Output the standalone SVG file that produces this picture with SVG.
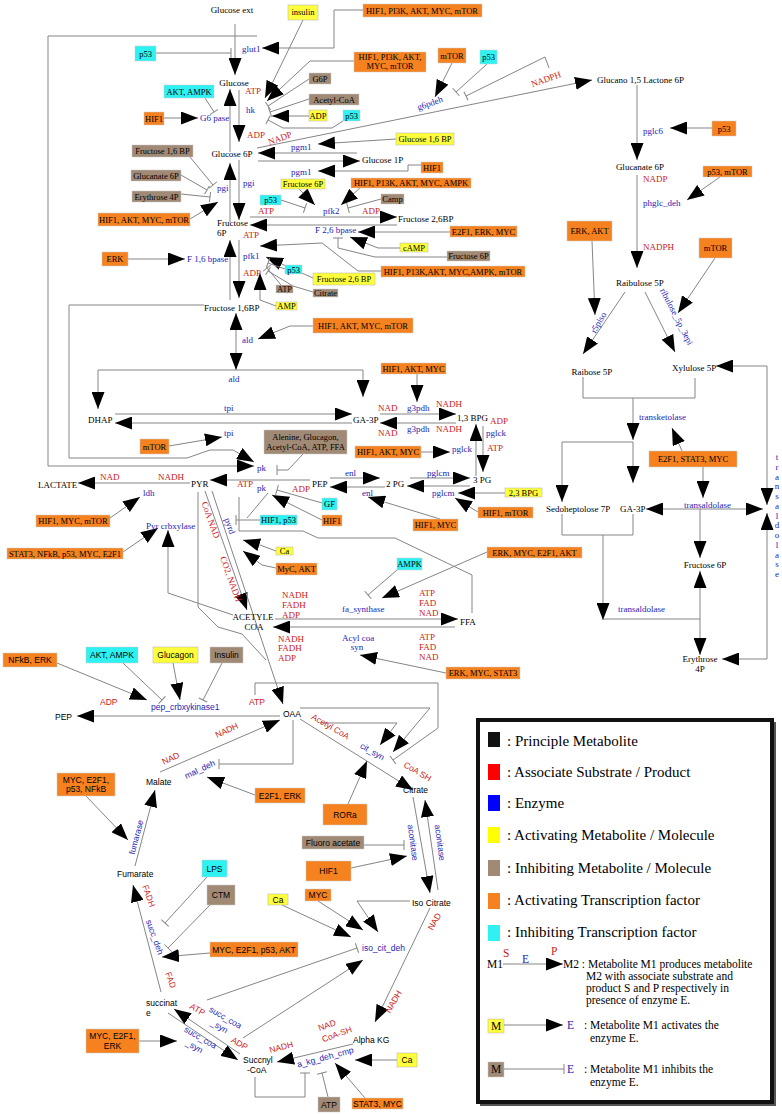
<svg xmlns="http://www.w3.org/2000/svg" width="782" height="1114" viewBox="0 0 782 1114">
<defs>
<style>
text{font-family:"Liberation Serif","Times New Roman",serif;font-size:9px}
.m{fill:#000}
.e{fill:#2424b4}
.s{fill:#cc2020}
.sa{font-family:"Liberation Sans",Arial,sans-serif;font-size:8.5px}
.mid{text-anchor:middle}
.bt{font-size:8.5px;fill:#000;text-anchor:middle}
.or{fill:#f5821f;stroke:#c9c9c9;stroke-width:0.5}
.ye{fill:#ffff3c;stroke:#b0b0b0;stroke-width:0.5}
.cy{fill:#2ef2f2;stroke:#c9c9c9;stroke-width:0.5}
.br{fill:#a08a76;stroke:#c9c9c9;stroke-width:0.5}
.c{fill:none;stroke:#858585;stroke-width:1}
.a{marker-end:url(#ah)}
.t{marker-end:url(#tb)}
.lg{font-size:15px;fill:#000}
.lt{font-size:11.5px;fill:#000}
</style>
<marker id="ah" markerUnits="userSpaceOnUse" markerWidth="18" markerHeight="13" refX="17" refY="6.5" orient="auto" viewBox="0 0 18 13"><path d="M0,0 L17,6.5 L0,13 z" fill="#000"/></marker>
<marker id="tb" markerUnits="userSpaceOnUse" markerWidth="3" markerHeight="10" refX="1.5" refY="5" orient="auto" viewBox="0 0 3 10"><path d="M1.5,0 V10" stroke="#858585" stroke-width="1"/></marker>
</defs>
<rect width="782" height="1114" fill="#fff"/>

<g id="connectors">
<path class="c a" d="M235,24 V75"/>
<path class="c a" d="M257,36 H48 V466 H254"/>
<path class="c t" d="M156,53 H231"/>
<path class="c a" d="M363,10 H334 V48 H262"/>
<path class="c a" d="M303,20 L265,98"/>
<path class="c a" d="M354,61 H310 L267,101"/>
<path class="c t" d="M309,79 L268,106"/>
<path class="c t" d="M309,99 L270,112"/>
<path class="c a" d="M309,116 H272"/>
<path class="c t" d="M343,121 L332,128 H283 L268,120"/>
<path class="c t" d="M205,98 L214,112"/>
<path class="c a" d="M164,118 H198"/>
<path class="c a" d="M239,90 V142"/>
<path class="c a" d="M230,152 V89"/>
<path class="c a" d="M257,148 L592,80"/>
<path class="c a" d="M452,63 L435,97"/>
<path class="c t" d="M487,64 L456,92"/>
<path class="c t" d="M549,68 L545,57 L466,96"/>
<path class="c a" d="M396,139 L318,144"/>
<path class="c a" d="M357,153 H258"/>
<path class="c a" d="M258,161 H360"/>
<path class="c a" d="M421,165 H408 V171 H318"/>
<path class="c t" d="M190,157 L213,185"/>
<path class="c t" d="M181,175 L207,190"/>
<path class="c t" d="M181,194 L210,197"/>
<path class="c a" d="M190,219 L218,202"/>
<path class="c a" d="M239,160 V220"/>
<path class="c a" d="M230,222 V163"/>
<path class="c a" d="M250,217 H397"/>
<path class="c a" d="M397,225 H250"/>
<path class="c a" d="M298,188 L315,205"/>
<path class="c a" d="M360,188 L341,205"/>
<path class="c t" d="M281,200 L305,208"/>
<path class="c t" d="M381,199 L348,208"/>
<path class="c a" d="M450,232 H358"/>
<path class="c a" d="M400,248 H378 L350,237"/>
<path class="c t" d="M447,257 H375 L338,248 V238"/>
<path class="c a" d="M381,271 H358 L322,243 L260,246"/>
<path class="c a" d="M313,278 L266,257"/>
<path class="c t" d="M285,269 L268,263"/>
<path class="c t" d="M281,285 L267,268"/>
<path class="c t" d="M313,292 L293,286 L268,271"/>
<path class="c a" d="M276,306 L260,300 V273"/>
<path class="c a" d="M128,259 H185"/>
<path class="c a" d="M239,240 V298"/>
<path class="c a" d="M230,300 V240"/>
<path class="c a" d="M204,305 H69 V458 H187 L210,450 H233 L254,462"/>
<path class="c a" d="M236,340 V313"/>
<path class="c a" d="M236,340 V370"/>
<path class="c a" d="M313,326 H290 L258,339"/>
<path class="c a" d="M236,370 H98 V409"/>
<path class="c a" d="M236,370 H363 V397"/>
<path class="c a" d="M115,414 H352"/>
<path class="c a" d="M352,423 H115"/>
<path class="c a" d="M169,446 L222,437"/>
<path class="c a" d="M380,414 H456"/>
<path class="c a" d="M456,423 H380"/>
<path class="c a" d="M417,374 V402"/>
<path class="c a" d="M476,476 V424"/>
<path class="c a" d="M483,426 V472"/>
<path class="c a" d="M421,452 H450"/>
<path class="c a" d="M470,486 H407"/>
<path class="c a" d="M410,478 H470"/>
<path class="c a" d="M505,493 H458"/>
<path class="c a" d="M478,512 L455,498"/>
<path class="c a" d="M385,487 H330"/>
<path class="c a" d="M330,478 H380"/>
<path class="c a" d="M440,519 L368,497"/>
<path class="c a" d="M310,480 H210"/>
<path class="c t" d="M303,454 L288,470 H277"/>
<path class="c t" d="M322,503 L277,490"/>
<path class="c a" d="M322,520 L272,495"/>
<path class="c a" d="M190,483 H78"/>
<path class="c a" d="M110,518 L140,497"/>
<path class="c a" d="M123,552 L158,528"/>
<path class="c a" d="M233,615 L168,593 V530"/>
<path class="c a" d="M205,491 L247,610"/>
<path class="c a" d="M212,491 L283,704"/>
<path class="c" d="M198,492 V607 L218,627 L242,634 L266,660"/>
<path class="c t" d="M260,520 H236"/>
<path class="c" d="M268,493 L247,518"/>
<path class="c" d="M472,613 V575 L395,538 H318 L303,531 H239 V497"/>
<path class="c a" d="M276,551 L260,545 L243,540"/>
<path class="c a" d="M276,568 L262,565 L243,551"/>
<path class="c t" d="M397,570 L368,595"/>
<path class="c a" d="M487,552 L382,598"/>
<path class="c a" d="M275,619 H458"/>
<path class="c a" d="M455,627 H273"/>
<path class="c a" d="M446,673 L360,655"/>
<path class="c a" d="M57,663 L147,700"/>
<path class="c t" d="M123,663 L162,700"/>
<path class="c a" d="M173,663 L180,700"/>
<path class="c t" d="M222,663 L203,700"/>
<path class="c a" d="M280,716 H77"/>
<path class="c t" d="M255,695 V683 H438 V728 L393,760"/>
<path class="c a" d="M300,708 H430 L393,752"/>
<path class="c a" d="M320,723 H397 L380,745"/>
<path class="c a" d="M300,719 L413,790"/>
<path class="c a" d="M348,804 L367,761"/>
<path class="c t" d="M293,720 V764 H219"/>
<path class="c a" d="M160,772 L280,720"/>
<path class="c a" d="M255,795 L207,777"/>
<path class="c a" d="M86,796 L128,840"/>
<path class="c a" d="M135,866 L155,790"/>
<path class="c a" d="M413,797 L430,893"/>
<path class="c a" d="M438,890 L425,800"/>
<path class="c t" d="M364,845 H404"/>
<path class="c a" d="M351,868 L407,856"/>
<path class="c a" d="M282,905 L351,937"/>
<path class="c a" d="M318,901 L363,930"/>
<path class="c a" d="M410,901 H357 L378,932"/>
<path class="c t" d="M207,1000 L357,948"/>
<path class="c a" d="M243,1038 L363,960"/>
<path class="c a" d="M430,908 L375,1022"/>
<path class="c a" d="M397,1060 H355"/>
<path class="c a" d="M365,1098 L335,1063"/>
<path class="c t" d="M328,1097 L322,1073"/>
<path class="c a" d="M353,1044 L277,1062"/>
<path class="c t" d="M255,1077 V1097 H305 V1073"/>
<path class="c a" d="M161,992 L133,885"/>
<path class="c t" d="M207,877 L165,923"/>
<path class="c t" d="M210,905 L168,948"/>
<path class="c a" d="M210,953 L162,957"/>
<path class="c a" d="M139,1041 H177"/>
<path class="c a" d="M168,1013 L238,1060"/>
<path class="c a" d="M240,1054 L174,1009"/>
<path class="c a" d="M637,85 V160"/>
<path class="c a" d="M712,128 H670"/>
<path class="c a" d="M720,177 L687,200"/>
<path class="c a" d="M637,175 V268"/>
<path class="c a" d="M592,241 L595,315"/>
<path class="c a" d="M715,258 L678,313"/>
<path class="c a" d="M625,292 L583,354"/>
<path class="c a" d="M645,292 L675,352"/>
<path class="c" d="M583,377 V398 H695 V378"/>
<path class="c a" d="M633,398 V440"/>
<path class="c" d="M562,442 H633"/>
<path class="c a" d="M562,442 V502"/>
<path class="c a" d="M633,442 V483"/>
<path class="c a" d="M682,451 L672,428"/>
<path class="c a" d="M703,467 V498"/>
<path class="c a" d="M700,509 H646"/>
<path class="c a" d="M700,509 H763"/>
<path class="c a" d="M767,366 V505"/>
<path class="c a" d="M767,659 V513"/>
<path class="c a" d="M767,366 H716"/>
<path class="c a" d="M767,659 H722"/>
<path class="c a" d="M700,509 V558"/>
<path class="c" d="M562,514 V535 H633 V514"/>
<path class="c a" d="M603,535 V620"/>
<path class="c" d="M603,619 H700"/>
<path class="c a" d="M700,600 V571"/>
<path class="c a" d="M700,600 V655"/>
</g>

<g id="glycolysis-metabolites">
<text class="m mid" x="232" y="13">Glucose ext</text>
<text class="m mid" x="234" y="86">Glucose</text>
<text class="m mid" x="232" y="157">Glucose 6P</text>
<text class="m" x="362" y="163">Glucose 1P</text>
<text class="m" x="217" y="226">Fructose</text>
<text class="m" x="217" y="236">6P</text>
<text class="m" x="398" y="222">Fructose 2,6BP</text>
<text class="m" x="204" y="311">Fructose 1,6BP</text>
<text class="m" x="88" y="423">DHAP</text>
<text class="m" x="353" y="423">GA-3P</text>
<text class="m" x="457" y="421">1,3 BPG</text>
<text class="m" x="473" y="483">3 PG</text>
<text class="m" x="386" y="487">2 PG</text>
<text class="m" x="312" y="487">PEP</text>
<text class="m" x="191" y="487">PYR</text>
<text class="m" x="38" y="488">LACTATE</text>
<text class="m mid" x="253" y="620">ACETYLE</text>
<text class="m mid" x="254" y="630">COA</text>
<text class="m" x="460" y="625">FFA</text>
</g>

<g id="ppp-metabolites">
<text class="m" x="597" y="83">Glucano 1,5 Lactone 6P</text>
<text class="m mid" x="640" y="170">Glucanate 6P</text>
<text class="m mid" x="640" y="286">Raibulose 5P</text>
<text class="m mid" x="592" y="375">Raibose 5P</text>
<text class="m" x="672" y="371">Xylulose 5P</text>
<text class="m" x="546" y="512">Sedoheptolose 7P</text>
<text class="m" x="620" y="512">GA-3P</text>
<text class="m mid" x="705" y="568">Fructose 6P</text>
<text class="m mid" x="700" y="662">Erythrose</text>
<text class="m mid" x="700" y="672">4P</text>
</g>

<g id="tca-metabolites">
<text class="m sa" x="55" y="720">PEP</text>
<text class="m sa" x="283" y="717">OAA</text>
<text class="m sa" x="146" y="785">Malate</text>
<text class="m sa" x="403" y="793">Citrate</text>
<text class="m sa" x="117" y="877">Fumarate</text>
<text class="m sa" x="412" y="906">Iso Citrate</text>
<text class="m sa" x="146" y="1006">succinat</text>
<text class="m sa" x="146" y="1016">e</text>
<text class="m sa" x="353" y="1043">Alpha KG</text>
<text class="m sa" x="243" y="1063">Succnyl</text>
<text class="m sa" x="247" y="1073">-CoA</text>
</g>

<g id="enzymes">
<text class="e" x="242" y="52">glut1</text>
<text class="e" x="246" y="113">hk</text>
<text class="e" x="200" y="121">G6 pase</text>
<text class="e" x="217" y="191">pgi</text>
<text class="e" x="243" y="186">pgi</text>
<text class="e" x="291" y="150">pgm1</text>
<text class="e" x="291" y="175">pgm1</text>
<text class="e" x="323" y="214">pfk2</text>
<text class="e" x="315" y="233">F 2,6 bpase</text>
<text class="e" x="243" y="259">pfk1</text>
<text class="e" x="187" y="262">F 1,6 bpase</text>
<text class="e" x="242" y="343">ald</text>
<text class="e mid" x="234" y="382">ald</text>
<text class="e" x="224" y="411">tpi</text>
<text class="e" x="224" y="436">tpi</text>
<text class="e" x="407" y="411">g3pdh</text>
<text class="e" x="407" y="432">g3pdh</text>
<text class="e" x="486" y="436">pglck</text>
<text class="e" x="452" y="452">pglck</text>
<text class="e" x="345" y="476">enl</text>
<text class="e" x="362" y="496">enl</text>
<text class="e" x="427" y="476">pglcm</text>
<text class="e" x="432" y="496">pglcm</text>
<text class="e" x="257" y="471">pk</text>
<text class="e" x="257" y="491">pk</text>
<text class="e" x="143" y="496">ldh</text>
<text class="e" x="146" y="529">Pyr crbxylase</text>
<text class="e mid" transform="translate(227,527) rotate(70)">pyrd</text>
<text class="e" x="342" y="612">fa_synthase</text>
<text class="e" x="342" y="641">Acyl coa</text>
<text class="e mid" x="357" y="650">syn</text>
<text class="e mid" transform="translate(431,106) rotate(-20)">g6pdeh</text>
<text class="e" x="643" y="134">pglc6</text>
<text class="e" x="643" y="206">phglc_deh</text>
<text class="e mid" transform="translate(601,324) rotate(-60)">r5piso</text>
<text class="e mid" transform="translate(674,318) rotate(63)">ribulose_5p_3epi</text>
<text class="e" x="639" y="420">transketolase</text>
<text class="e" x="684" y="508">transaldolase</text>
<text class="e" x="618" y="612">transaldolase</text>
<text class="e mid" x="777" y="460"><tspan x="777">t</tspan><tspan x="777" dy="9.75">r</tspan><tspan x="777" dy="9.75">a</tspan><tspan x="777" dy="9.75">n</tspan><tspan x="777" dy="9.75">s</tspan><tspan x="777" dy="9.75">a</tspan><tspan x="777" dy="9.75">l</tspan><tspan x="777" dy="9.75">d</tspan><tspan x="777" dy="9.75">o</tspan><tspan x="777" dy="9.75">l</tspan><tspan x="777" dy="9.75">a</tspan><tspan x="777" dy="9.75">s</tspan><tspan x="777" dy="9.75">e</tspan></text>
<text class="e sa" x="151" y="710">pep_crbxykinase1</text>
<text class="e sa mid" transform="translate(201,772) rotate(-25)">mal_deh</text>
<text class="e sa mid" transform="translate(139,838) rotate(-75)">fumarase</text>
<text class="e sa mid" transform="translate(371,754) rotate(30)">cit_syn</text>
<text class="e sa mid" transform="translate(410,843) rotate(82)">aconitase</text>
<text class="e sa mid" transform="translate(437,843) rotate(82)">aconitase</text>
<text class="e sa" x="362" y="951">iso_cit_deh</text>
<text class="e sa mid" transform="translate(152,938) rotate(70)">succ_deh</text>
<text class="e sa mid" transform="translate(224,1020) rotate(30)">succ_coa</text>
<text class="e sa mid" transform="translate(218,1029) rotate(30)">_syn</text>
<text class="e sa mid" transform="translate(199,1040) rotate(30)">succ_coa</text>
<text class="e sa mid" transform="translate(193,1049) rotate(30)">_syn</text>
<text class="e sa mid" transform="translate(326,1060) rotate(-15)">a_kg_deh_cmp</text>
</g>

<g id="cofactors">
<text class="s" x="245" y="94">ATP</text>
<text class="s" x="247" y="138">ADP</text>
<text class="s mid" transform="translate(281,141) rotate(-20)">NADP</text>
<text class="s mid" transform="translate(547,82) rotate(-20)">NADPH</text>
<text class="s" x="258" y="214">ATP</text>
<text class="s" x="362" y="214">ADP</text>
<text class="s" x="243" y="238">ATP</text>
<text class="s" x="243" y="276">ADP</text>
<text class="s" x="643" y="182">NADP</text>
<text class="s" x="643" y="250">NADPH</text>
<text class="s" x="378" y="411">NAD</text>
<text class="s" x="436" y="407">NADH</text>
<text class="s" x="378" y="436">NAD</text>
<text class="s" x="436" y="432">NADH</text>
<text class="s" x="490" y="424">ADP</text>
<text class="s" x="487" y="451">ATP</text>
<text class="s" x="100" y="480">NAD</text>
<text class="s" x="158" y="480">NADH</text>
<text class="s" x="237" y="487">ATP</text>
<text class="s" x="292" y="492">ADP</text>
<text class="s mid" transform="translate(208,521) rotate(70)">CoA NAD</text>
<text class="s mid" transform="translate(228,580) rotate(70)">CO2, NADH</text>
<text class="s" x="282" y="598">NADH</text>
<text class="s" x="282" y="608">FADH</text>
<text class="s" x="282" y="618">ADP</text>
<text class="s" x="419" y="596">ATP</text>
<text class="s" x="419" y="606">FAD</text>
<text class="s" x="419" y="616">NAD</text>
<text class="s" x="278" y="642">NADH</text>
<text class="s" x="278" y="651">FADH</text>
<text class="s" x="278" y="661">ADP</text>
<text class="s" x="419" y="640">ATP</text>
<text class="s" x="419" y="650">FAD</text>
<text class="s" x="419" y="660">NAD</text>
<text class="s sa" x="100" y="705">ADP</text>
<text class="s sa" x="249" y="705">ATP</text>
<text class="s sa mid" transform="translate(228,733) rotate(-25)">NADH</text>
<text class="s sa mid" transform="translate(172,761) rotate(-25)">NAD</text>
<text class="s sa mid" transform="translate(329,729) rotate(30)">Acetyl CoA</text>
<text class="s sa mid" transform="translate(416,774) rotate(30)">CoA SH</text>
<text class="s sa mid" transform="translate(146,897) rotate(70)">FADH</text>
<text class="s sa mid" transform="translate(168,981) rotate(70)">FAD</text>
<text class="s sa mid" transform="translate(437,923) rotate(-60)">NAD</text>
<text class="s sa mid" transform="translate(396,1003) rotate(-60)">NADH</text>
<text class="s sa mid" transform="translate(328,1028) rotate(-20)">NAD</text>
<text class="s sa mid" transform="translate(338,1037) rotate(-20)">CoA-SH</text>
<text class="s sa mid" transform="translate(282,1050) rotate(-15)">NADH</text>
<text class="s sa mid" transform="translate(196,1012) rotate(30)">ATP</text>
<text class="s sa mid" transform="translate(238,1046) rotate(30)">ADP</text>
</g>

<g id="n-insulin"><rect class="ye" x="288" y="5" width="30" height="15"/><text class="bt" x="303" y="15">insulin</text></g>
<g id="n-hif-glut"><rect class="or" x="363" y="4" width="119" height="13"/><text class="bt" x="422" y="13.5">HIF1, PI3K, AKT, MYC, mTOR</text></g>
<g id="n-hif-hk"><rect class="or" x="354" y="52" width="72" height="20"/><text class="bt" x="390" y="60">HIF1, PI3K, AKT,</text><text class="bt" x="390" y="69">MYC, mTOR</text></g>
<g id="n-p53-glut"><rect class="cy" x="135" y="46" width="21" height="15"/><text class="bt" x="145.5" y="56.5">p53</text></g>
<g id="n-akt-ampk"><rect class="cy" x="164" y="85" width="50" height="13"/><text class="bt" x="189" y="94.5">AKT, AMPK</text></g>
<g id="n-hif-g6pase"><rect class="or" x="144" y="112" width="20" height="13"/><text class="bt" x="154" y="121.5">HIF1</text></g>
<g id="n-g6p-br"><rect class="br" x="309" y="73" width="22" height="11"/><text class="bt" x="320" y="81.5">G6P</text></g>
<g id="n-acetyl-br"><rect class="br" x="309" y="94" width="50" height="11"/><text class="bt" x="334" y="102.5">Acetyl-CoA</text></g>
<g id="n-adp-ye"><rect class="ye" x="309" y="110" width="18" height="11"/><text class="bt" x="318" y="118.5">ADP</text></g>
<g id="n-p53-hk"><rect class="cy" x="343" y="110" width="17" height="11"/><text class="bt" x="351.5" y="118.5">p53</text></g>
<g id="n-mtor-g6pdeh"><rect class="or" x="438" y="48" width="28" height="15"/><text class="bt" x="452" y="58.5">mTOR</text></g>
<g id="n-p53-g6pdeh"><rect class="cy" x="480" y="50" width="17" height="14"/><text class="bt" x="488.5" y="60">p53</text></g>
<g id="n-g16bp"><rect class="ye" x="396" y="133" width="58" height="12"/><text class="bt" x="425" y="142">Glucose 1,6 BP</text></g>
<g id="n-hif-pgm1"><rect class="or" x="421" y="162" width="22" height="11"/><text class="bt" x="432" y="170.5">HIF1</text></g>
<g id="n-f16bp-br"><rect class="br" x="132" y="145" width="61" height="12"/><text class="bt" x="162.5" y="154">Fructose 1,6 BP</text></g>
<g id="n-glucanate-br"><rect class="br" x="131" y="170" width="50" height="11"/><text class="bt" x="156" y="178.5">Glucanate 6P</text></g>
<g id="n-erythrose-br"><rect class="br" x="132" y="191" width="49" height="11"/><text class="bt" x="156.5" y="199.5">Erythrose 4P</text></g>
<g id="n-hif-pgi"><rect class="or" x="98" y="213" width="92" height="13"/><text class="bt" x="144" y="222.5">HIF1, AKT, MYC, mTOR</text></g>
<g id="n-f6p-ye"><rect class="ye" x="281" y="179" width="44" height="10"/><text class="bt" x="303" y="187">Fructose 6P</text></g>
<g id="n-hif-pfk2"><rect class="or" x="351" y="178" width="120" height="10"/><text class="bt" x="411" y="186">HIF1, P13K, AKT, MYC, AMPK</text></g>
<g id="n-p53-pfk2"><rect class="cy" x="260" y="195" width="21" height="10"/><text class="bt" x="270.5" y="203">p53</text></g>
<g id="n-camp-br"><rect class="br" x="381" y="194" width="23" height="10"/><text class="bt" x="392.5" y="202">Camp</text></g>
<g id="n-e2f1-erk"><rect class="or" x="450" y="226" width="67" height="11"/><text class="bt" x="483.5" y="234.5">E2F1, ERK, MYC</text></g>
<g id="n-camp-ye"><rect class="ye" x="400" y="243" width="28" height="9"/><text class="bt" x="414" y="250.5">cAMP</text></g>
<g id="n-f6p-br"><rect class="br" x="447" y="251" width="43" height="10"/><text class="bt" x="468.5" y="259">Fructose 6P</text></g>
<g id="n-hif-pfk1"><rect class="or" x="381" y="266" width="144" height="11"/><text class="bt" x="453" y="274.5">HIF1, P13K,AKT, MYC,AMPK, mTOR</text></g>
<g id="n-p53-pfk1"><rect class="cy" x="285" y="265" width="17" height="9"/><text class="bt" x="293.5" y="272.5">p53</text></g>
<g id="n-f26bp-ye"><rect class="ye" x="313" y="273" width="62" height="12"/><text class="bt" x="344" y="282">Fructose 2,6 BP</text></g>
<g id="n-atp-br"><rect class="br" x="276" y="285" width="17" height="8"/><text class="bt" x="284.5" y="292">ATP</text></g>
<g id="n-citrate-br"><rect class="br" x="313" y="289" width="25" height="8"/><text class="bt" x="325.5" y="296">Citrate</text></g>
<g id="n-amp-ye"><rect class="ye" x="276" y="302" width="21" height="8"/><text class="bt" x="286.5" y="309">AMP</text></g>
<g id="n-erk"><rect class="or" x="102" y="252" width="26" height="14"/><text class="bt" x="115" y="262">ERK</text></g>
<g id="n-hif-ald"><rect class="or" x="313" y="318" width="100" height="15"/><text class="bt" x="363" y="328.5">HIF1, AKT, MYC, mTOR</text></g>
<g id="n-hif-g3pdh"><rect class="or" x="381" y="363" width="65" height="11"/><text class="bt" x="413.5" y="371.5">HIF1, AKT, MYC</text></g>
<g id="n-mtor-tpi"><rect class="or" x="140" y="439" width="29" height="15"/><text class="bt" x="154.5" y="449.5">mTOR</text></g>
<g id="n-alenine"><rect class="br" x="264" y="430" width="83" height="24"/><text class="bt" x="305.5" y="440">Alenine, Glucagon,</text><text class="bt" x="305.5" y="450">Acetyl-CoA, ATP, FFA</text></g>
<g id="n-hif-pglck"><rect class="or" x="355" y="446" width="66" height="12"/><text class="bt" x="388" y="455">HIF1, AKT, MYC</text></g>
<g id="n-23bpg"><rect class="ye" x="505" y="488" width="37" height="9"/><text class="bt" x="523.5" y="495.5">2,3 BPG</text></g>
<g id="n-hif-mtor"><rect class="or" x="478" y="507" width="55" height="11"/><text class="bt" x="505.5" y="515.5">HIF1, mTOR</text></g>
<g id="n-hif-myc-enl"><rect class="or" x="413" y="519" width="45" height="12"/><text class="bt" x="435.5" y="528">HIF1, MYC</text></g>
<g id="n-gf"><rect class="cy" x="322" y="498" width="15" height="12"/><text class="bt" x="329.5" y="507">GF</text></g>
<g id="n-hif-pk"><rect class="or" x="322" y="515" width="20" height="11"/><text class="bt" x="332" y="523.5">HIF1</text></g>
<g id="n-hif-p53"><rect class="cy" x="260" y="515" width="37" height="10"/><text class="bt" x="278.5" y="523">HIF1, p53</text></g>
<g id="n-hif-ldh"><rect class="or" x="36" y="515" width="74" height="12"/><text class="bt" x="73" y="524">HIF1, MYC, mTOR</text></g>
<g id="n-stat3"><rect class="or" x="7" y="548" width="116" height="11"/><text class="bt" x="65" y="556.5">STAT3, NFkB, p53, MYC, E2F1</text></g>
<g id="n-ca-pyrd"><rect class="ye" x="276" y="547" width="17" height="8"/><text class="bt" x="284.5" y="554">Ca</text></g>
<g id="n-myc-akt"><rect class="or" x="276" y="563" width="41" height="12"/><text class="bt" x="296.5" y="572">MyC, AKT</text></g>
<g id="n-ampk"><rect class="cy" x="397" y="558" width="25" height="12"/><text class="bt" x="409.5" y="567">AMPK</text></g>
<g id="n-erk-fa"><rect class="or" x="487" y="547" width="95" height="11"/><text class="bt" x="534.5" y="555.5">ERK, MYC, E2F1, AKT</text></g>
<g id="n-erk-acyl"><rect class="or" x="446" y="667" width="74" height="12"/><text class="bt" x="483" y="676">ERK, MYC, STAT3</text></g>
<g id="n-p53-pglc6"><rect class="or" x="712" y="121" width="24" height="15"/><text class="bt" x="724" y="131.5">p53</text></g>
<g id="n-p53-mtor"><rect class="or" x="703" y="166" width="49" height="11"/><text class="bt" x="727.5" y="174.5">p53, mTOR</text></g>
<g id="n-erk-akt"><rect class="or" x="567" y="221" width="45" height="20"/><text class="bt" x="589.5" y="234">ERK, AKT</text></g>
<g id="n-mtor-epi"><rect class="or" x="699" y="238" width="33" height="20"/><text class="bt" x="715.5" y="251">mTOR</text></g>
<g id="n-e2f1-stat3"><rect class="or" x="649" y="451" width="88" height="16"/><text class="bt" x="693" y="462">E2F1, STAT3, MYC</text></g>

<g id="n-nfkb-erk"><rect class="or" x="3" y="653" width="54" height="14"/><text class="bt sa" x="30" y="663">NFkB, ERK</text></g>
<g id="n-akt-ampk2"><rect class="cy" x="86" y="647" width="52" height="16"/><text class="bt sa" x="112" y="658">AKT, AMPK</text></g>
<g id="n-glucagon"><rect class="ye" x="153" y="647" width="45" height="16"/><text class="bt sa" x="175.5" y="658">Glucagon</text></g>
<g id="n-insulin2"><rect class="br" x="210" y="647" width="33" height="16"/><text class="bt sa" x="226.5" y="658">Insulin</text></g>
<g id="n-myc-fum"><rect class="or" x="57" y="773" width="58" height="23"/><text class="bt sa" x="86" y="783">MYC, E2F1,</text><text class="bt sa" x="86" y="792">p53, NFkB</text></g>
<g id="n-e2f1-erk2"><rect class="or" x="255" y="788" width="50" height="15"/><text class="bt sa" x="280" y="798.5">E2F1, ERK</text></g>
<g id="n-rora"><rect class="or" x="323" y="804" width="44" height="21"/><text class="bt sa" x="345" y="817.5">RORa</text></g>
<g id="n-fluoro"><rect class="br" x="302" y="836" width="62" height="13"/><text class="bt sa" x="333" y="845.5">Fluoro acetate</text></g>
<g id="n-hif-acon"><rect class="or" x="306" y="861" width="45" height="20"/><text class="bt sa" x="328.5" y="874">HIF1</text></g>
<g id="n-ca-iso"><rect class="ye" x="268" y="894" width="20" height="11"/><text class="bt sa" x="278" y="902.5">Ca</text></g>
<g id="n-myc-iso"><rect class="or" x="305" y="889" width="26" height="12"/><text class="bt sa" x="318" y="898">MYC</text></g>
<g id="n-lps"><rect class="cy" x="202" y="860" width="25" height="17"/><text class="bt sa" x="214.5" y="871.5">LPS</text></g>
<g id="n-ctm"><rect class="br" x="207" y="885" width="28" height="20"/><text class="bt sa" x="221" y="898">CTM</text></g>
<g id="n-myc-succdeh"><rect class="or" x="210" y="942" width="88" height="15"/><text class="bt sa" x="254" y="952.5">MYC, E2F1, p53, AKT</text></g>
<g id="n-myc-erk"><rect class="or" x="86" y="1029" width="53" height="24"/><text class="bt sa" x="112.5" y="1039">MYC, E2F1,</text><text class="bt sa" x="112.5" y="1049">ERK</text></g>
<g id="n-ca-akg"><rect class="ye" x="397" y="1053" width="20" height="14"/><text class="bt sa" x="407" y="1063">Ca</text></g>
<g id="n-stat3-myc"><rect class="or" x="352" y="1098" width="51" height="11"/><text class="bt sa" x="377.5" y="1106.5">STAT3, MYC</text></g>
<g id="n-atp-akg"><rect class="br" x="318" y="1097" width="22" height="15"/><text class="bt sa" x="329" y="1107.5">ATP</text></g>

<g id="legend">
<rect x="480" y="722" width="296" height="384" fill="#555"/>
<rect x="478" y="720" width="294" height="382" fill="#fff" stroke="#111" stroke-width="4"/>
<rect x="488" y="732" width="12" height="15" fill="#111"/><text class="lg" x="507" y="746">: Principle Metabolite</text>
<rect x="488" y="764" width="12" height="16" fill="#ff0000"/><text class="lg" x="507" y="777">: Associate Substrate / Product</text>
<rect x="488" y="795" width="12" height="16" fill="#0000ff"/><text class="lg" x="507" y="808">: Enzyme</text>
<rect x="488" y="827" width="12" height="16" fill="#ffff00"/><text class="lg" x="507" y="840">: Activating Metabolite / Molecule</text>
<rect x="488" y="860" width="12" height="16" fill="#a08a76"/><text class="lg" x="507" y="873">: Inhibiting Metabolite / Molecule</text>
<rect x="488" y="893" width="12" height="16" fill="#f5821f"/><text class="lg" x="507" y="905">: Activating Transcription factor</text>
<rect x="488" y="925" width="12" height="16" fill="#2ef2f2"/><text class="lg" x="507" y="937">: Inhibiting Transcription factor</text>
<text class="lt" x="487" y="968">M1</text>
<text class="lt" x="503" y="957" style="fill:#cc2020">S</text>
<text class="lt" x="522" y="963" style="fill:#2424b4">E</text>
<text class="lt" x="551" y="955" style="fill:#cc2020">P</text>
<path class="c a" d="M503,964 H563"/>
<text class="lt" x="563" y="968">M2 : Metabolite M1 produces metabolite</text>
<text class="lt" x="586" y="980">M2 with associate substrate and</text>
<text class="lt" x="586" y="992">product S and P respectively in</text>
<text class="lt" x="586" y="1004">presence of enzyme E.</text>
<rect class="ye" x="488" y="1019" width="16" height="14"/><text class="lt mid" x="496" y="1030">M</text>
<path class="c a" d="M504,1025 H563"/>
<text class="lt" x="567" y="1029" style="fill:#2424b4">E</text>
<text class="lt" x="584" y="1029">: Metabolite M1 activates the</text>
<text class="lt" x="590" y="1042">enzyme E.</text>
<rect class="br" x="488" y="1062" width="16" height="15" stroke="#aaa"/><text class="lt mid" x="496" y="1073">M</text>
<path class="c t" d="M504,1069 H564"/>
<text class="lt" x="567" y="1073" style="fill:#2424b4">E</text>
<text class="lt" x="584" y="1073">: Metabolite M1 inhibits the</text>
<text class="lt" x="590" y="1086">enzyme E.</text>
</g>
</svg>
